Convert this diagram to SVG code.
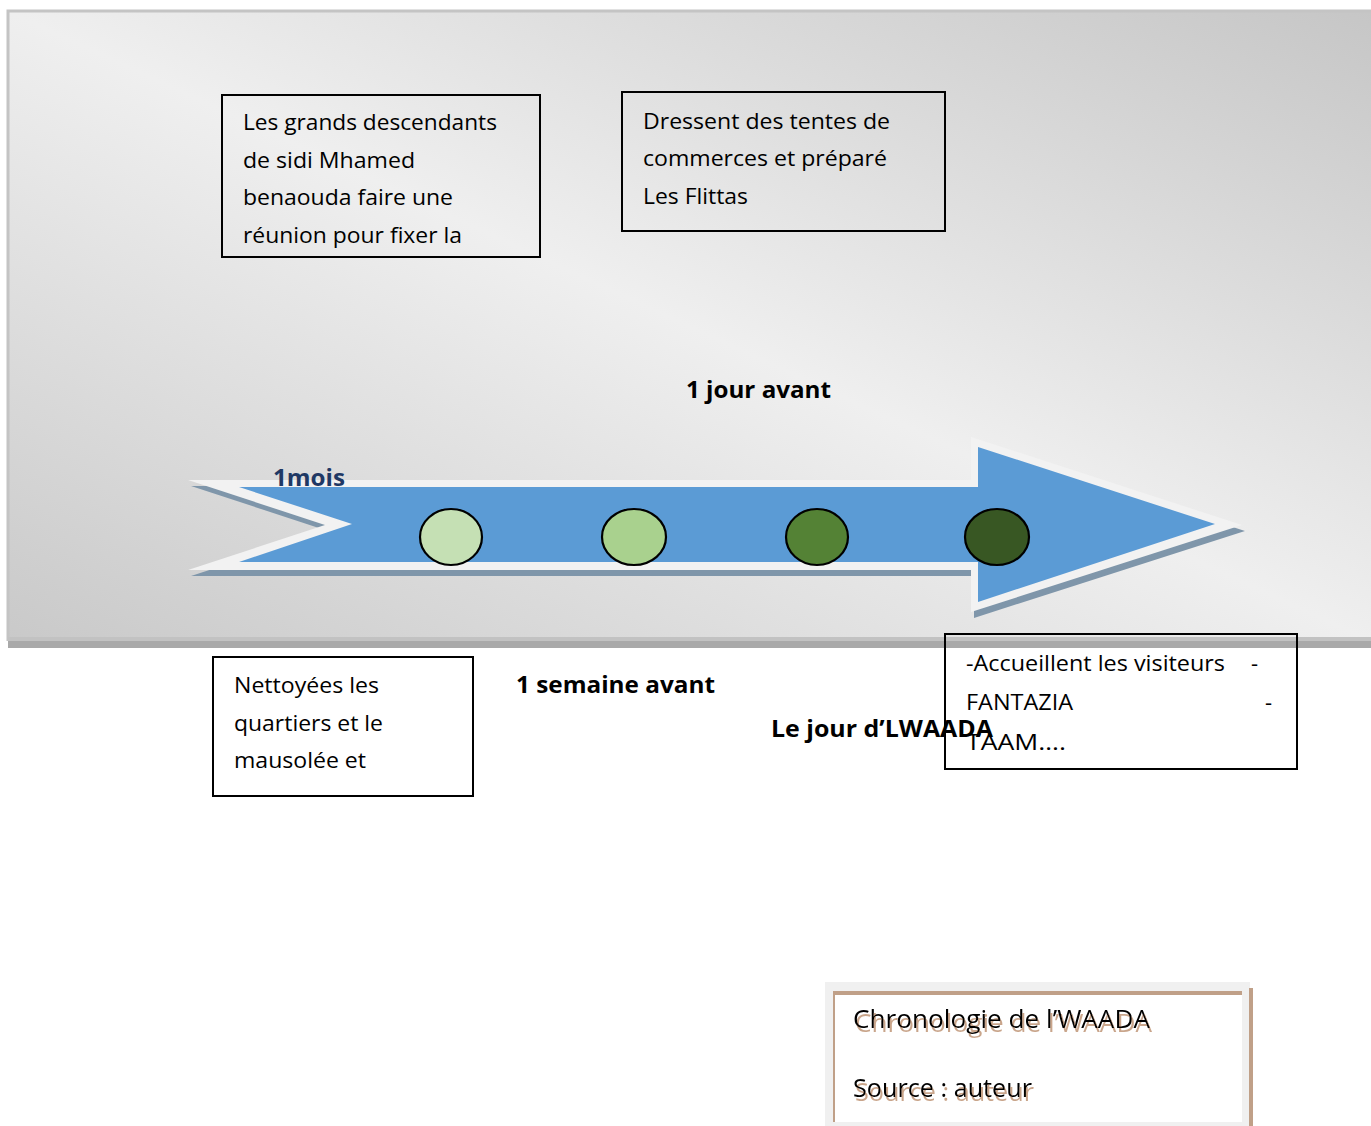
<svg xmlns="http://www.w3.org/2000/svg" width="1371" height="1126" viewBox="0 0 1371 1126">
<defs>
<linearGradient id="bg" x1="1" y1="0" x2="0" y2="1">
<stop offset="0" stop-color="#c6c6c6"/>
<stop offset="0.5" stop-color="#efefef"/>
<stop offset="1" stop-color="#c9c9c9"/>
</linearGradient>
<filter id="ts" x="-5%" y="-30%" width="115%" height="180%">
<feOffset in="SourceAlpha" dx="2" dy="4" result="o"/>
<feFlood flood-color="#c9a58b"/>
<feComposite in2="o" operator="in" result="s"/>
<feMerge><feMergeNode in="s"/><feMergeNode in="SourceGraphic"/></feMerge>
</filter>
<style>
.t{font-family:"Open Sans","Noto Sans","Liberation Sans",sans-serif;font-size:22px;fill:#000}
.b{font-family:"Open Sans","Noto Sans","Liberation Sans",sans-serif;font-size:23px;font-weight:bold;fill:#000}
.box{fill:none;stroke:#000;stroke-width:2}
.dot{stroke:#000;stroke-width:2.2}
.cap{font-family:"Open Sans","Noto Sans","Liberation Sans",sans-serif;font-size:25px;fill:#000}
</style>
</defs>
<g id="panel">
<rect x="7" y="11" width="1364" height="630" fill="url(#bg)"/>
<path d="M8 641 V11 H1371" fill="none" stroke="#c4c4c4" stroke-width="3"/>
<rect x="8" y="637" width="1363" height="4" fill="#c2c2c2"/>
<rect x="8" y="641" width="1363" height="7" fill="#a9a9a9"/>
</g>
<g id="timeline-arrow">
<polygon points="191,486 974,486 974,443 1245,531 974,618 974,576 191,576 328,531" fill="#7f96aa"/>
<polygon points="188,480 971,480 971,437 1242,525 971,612 971,570 188,570 325,525" fill="#f2f2f2"/>
<polygon points="239,487 978,487 978,447 1215,524 978,602 978,562 239,562 352,524" fill="#5b9bd5"/>
</g>
<g id="dot1"><ellipse class="dot" cx="451" cy="537" rx="31" ry="28" fill="#c5e0b4"/></g>
<g id="dot2"><ellipse class="dot" cx="634" cy="537" rx="32" ry="28" fill="#a9d18e"/></g>
<g id="dot3"><ellipse class="dot" cx="817" cy="537" rx="31" ry="28" fill="#548235"/></g>
<g id="dot4"><ellipse class="dot" cx="997" cy="537" rx="32" ry="28" fill="#385723"/></g>
<g id="label-1mois"><text x="273" y="486" font-family="Open Sans, Noto Sans, sans-serif" font-size="24" font-weight="bold" fill="#1f3864" textLength="72" lengthAdjust="spacingAndGlyphs">1mois</text></g>
<g id="box-reunion">
<rect class="box" x="222" y="95" width="318" height="162"/>
<text class="t" x="243" y="130" textLength="254" lengthAdjust="spacingAndGlyphs">Les grands descendants</text>
<text class="t" x="243" y="168" textLength="172" lengthAdjust="spacingAndGlyphs">de sidi Mhamed</text>
<text class="t" x="243" y="205" textLength="210" lengthAdjust="spacingAndGlyphs">benaouda faire une</text>
<text class="t" x="243" y="243" textLength="219" lengthAdjust="spacingAndGlyphs">réunion pour fixer la</text>
</g>
<g id="box-tentes">
<rect class="box" x="622" y="92" width="323" height="139"/>
<text class="t" x="643" y="129" textLength="247" lengthAdjust="spacingAndGlyphs">Dressent des tentes de</text>
<text class="t" x="643" y="166" textLength="244" lengthAdjust="spacingAndGlyphs">commerces et préparé</text>
<text class="t" x="643" y="204" textLength="105" lengthAdjust="spacingAndGlyphs">Les Flittas</text>
</g>
<g id="label-1jour"><text class="b" x="686" y="398" textLength="145" lengthAdjust="spacingAndGlyphs">1 jour avant</text></g>
<g id="box-nettoyees">
<rect x="213" y="657" width="260" height="139" fill="#fff" stroke="#000" stroke-width="2"/>
<text class="t" x="234" y="693" textLength="145" lengthAdjust="spacingAndGlyphs">Nettoyées les</text>
<text class="t" x="234" y="731" textLength="149" lengthAdjust="spacingAndGlyphs">quartiers et le</text>
<text class="t" x="234" y="768" textLength="132" lengthAdjust="spacingAndGlyphs">mausolée et</text>
</g>
<g id="label-1semaine"><text class="b" x="516" y="693" textLength="199" lengthAdjust="spacingAndGlyphs">1 semaine avant</text></g>
<g id="label-lejour"><text class="b" x="771" y="737" textLength="222" lengthAdjust="spacingAndGlyphs">Le jour d’LWAADA</text></g>
<g id="box-accueil">
<rect class="box" x="945" y="634" width="352" height="135"/>
<text class="t" x="966" y="671" textLength="259" lengthAdjust="spacingAndGlyphs">-Accueillent les visiteurs</text>
<text class="t" x="1251" y="671">-</text>
<text class="t" x="966" y="710" textLength="107" lengthAdjust="spacingAndGlyphs">FANTAZIA</text>
<text class="t" x="1265" y="710">-</text>
<text class="t" x="966" y="750" textLength="100" lengthAdjust="spacingAndGlyphs">TAAM….</text>
</g>
<g id="caption">
<rect x="825" y="982" width="425" height="144" fill="#f0f0f0"/>
<rect x="834" y="994" width="408" height="128" fill="#fff"/>
<line x1="833" y1="993" x2="1242" y2="993" stroke="#c0a088" stroke-width="4"/>
<line x1="834" y1="993" x2="834" y2="1122" stroke="#c0a088" stroke-width="2"/>
<line x1="1251" y1="988" x2="1251" y2="1126" stroke="#c0a088" stroke-width="4"/>
<text class="cap" x="853" y="1028" filter="url(#ts)" textLength="297" lengthAdjust="spacingAndGlyphs">Chronologie de l’WAADA</text>
<text class="cap" x="853" y="1097" filter="url(#ts)" textLength="179" lengthAdjust="spacingAndGlyphs">Source : auteur</text>
</g>
</svg>
